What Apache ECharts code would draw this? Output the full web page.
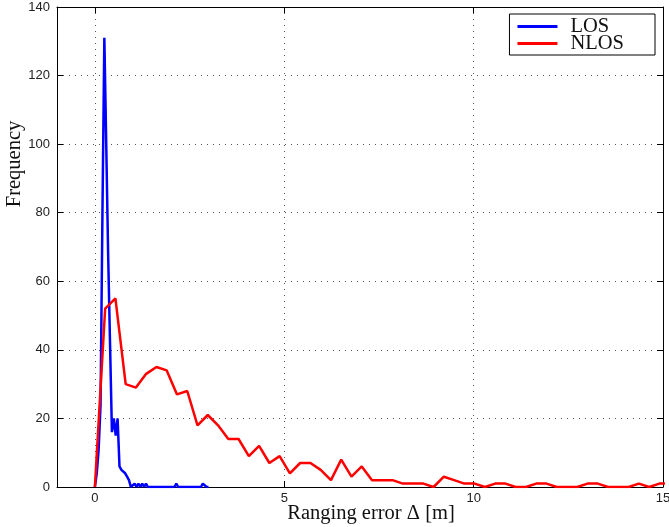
<!DOCTYPE html>
<html>
<head>
<meta charset="utf-8">
<style>
  html, body { margin: 0; padding: 0; background: #fff; }
  #chart { width: 669px; height: 527px; }
</style>
<script src="https://cdn.jsdelivr.net/npm/echarts@6/dist/echarts.min.js"></script>
</head>
<body>
<div id="chart"></div>
<script>
// Histogram of ranging errors (60 bins each), LOS vs NLOS
const losStart = 0;
const losBinWidth = 0.05;
const losFreq = [
  0, 4, 11, 24, 80, 131, 100, 68, 42, 16,
  20, 15, 20, 6, 5, 5, 4, 3, 2, 0,
  0, 1, 0, 1, 0, 1, 0, 1, 0, 0,
  0, 0, 0, 0, 0, 0, 0, 0, 0, 0,
  0, 0, 0, 1, 0, 0, 0, 0, 0, 0,
  0, 0, 0, 0, 0, 0, 0, 1, 1, 0,
  0
];

const nlosStart = 0;
const nlosBinWidth = 0.271;
const nlosFreq = [
  0, 52, 55, 30, 29, 33, 35, 34, 27, 28,
  18, 21, 18, 14, 14, 9, 12, 7, 9, 4,
  7, 7, 5, 2, 8, 3, 6, 2, 2, 2,
  1, 1, 1, 0, 3, 2, 1, 1, 0, 1,
  1, 0, 0, 1, 1, 0, 0, 0, 1, 1,
  0, 0, 0, 1, 0, 1, 1
];

const xTicks = [0, 5, 10, 15];
const yTicks = [0, 20, 40, 60, 80, 100, 120, 140];

const toPoints = (freq, start, width) => freq.map((v, i) => [start + i * width, v]);

const serif = '"Liberation Serif", "DejaVu Serif", serif';
const sans = '"Liberation Sans", Arial, sans-serif';

const dotted = { show: true, lineStyle: { color: '#555', width: 1, type: [1, 5] } };

const chart = echarts.init(document.getElementById('chart'), null, { renderer: 'canvas' });

chart.setOption({
  animation: false,
  backgroundColor: '#fff',
  grid: { left: 57, right: 6, top: 7, bottom: 40, containLabel: false, outerBoundsMode: 'none' },
  legend: {
    right: 14,
    top: 14,
    orient: 'vertical',
    icon: 'rect',
    itemWidth: 40,
    itemHeight: 3,
    itemGap: -4,
    padding: [2, 31, 1, 8],
    borderColor: '#000',
    borderWidth: 1,
    borderRadius: 0,
    backgroundColor: '#fff',
    textStyle: { fontFamily: serif, fontSize: 20.5, color: '#111', padding: [0, 0, 0, 8] },
    data: ['LOS', 'NLOS']
  },
  xAxis: [
    {
      type: 'value',
      min: -1,
      max: 15,
      name: 'Ranging error Δ [m]',
      nameLocation: 'middle',
      nameGap: 16,
      nameMoveOverlap: false,
      nameTextStyle: { fontFamily: serif, fontSize: 20.5, color: '#111', padding: [0, 0, 0, 22] },
      axisLine: { show: true, onZero: false, lineStyle: { color: '#000', width: 1 } },
      axisTick: { show: true, inside: true, length: 6, customValues: xTicks, lineStyle: { color: '#000' } },
      axisLabel: { customValues: xTicks, margin: 5, fontFamily: sans, fontSize: 13, color: '#222' },
      splitLine: dotted
    },
    {
      type: 'value',
      position: 'top',
      min: -1,
      max: 15,
      axisLine: { show: true, onZero: false, lineStyle: { color: '#000', width: 1 } },
      axisTick: { show: true, inside: true, length: 6, customValues: xTicks, lineStyle: { color: '#000' } },
      axisLabel: { show: false },
      splitLine: { show: false }
    }
  ],
  yAxis: [
    {
      type: 'value',
      min: 0,
      max: 140,
      interval: 20,
      name: 'Frequency',
      nameLocation: 'middle',
      nameGap: 32,
      nameMoveOverlap: false,
      nameRotate: 90,
      nameTextStyle: { fontFamily: serif, fontSize: 20.5, color: '#111', padding: [0, 0, 0, 166] },
      axisLine: { show: true, onZero: false, lineStyle: { color: '#000', width: 1 } },
      axisTick: { show: true, inside: true, length: 6, lineStyle: { color: '#000' } },
      axisLabel: { margin: 7, fontFamily: sans, fontSize: 13, color: '#222',
        formatter: v => (yTicks.includes(v) ? String(v) : '') },
      splitLine: dotted
    },
    {
      type: 'value',
      position: 'right',
      min: 0,
      max: 140,
      interval: 20,
      axisLine: { show: true, onZero: false, lineStyle: { color: '#000', width: 1 } },
      axisTick: { show: true, inside: true, length: 6, lineStyle: { color: '#000' } },
      axisLabel: { show: false },
      splitLine: { show: false }
    }
  ],
  series: [
    {
      name: 'LOS',
      type: 'line',
      data: toPoints(losFreq, losStart, losBinWidth),
      showSymbol: false,
      symbol: 'none',
      clip: true,
      lineStyle: { color: '#0000ff', width: 2.5 },
      itemStyle: { color: '#0000ff' }
    },
    {
      name: 'NLOS',
      type: 'line',
      data: toPoints(nlosFreq, nlosStart, nlosBinWidth),
      showSymbol: false,
      symbol: 'none',
      clip: true,
      lineStyle: { color: '#ff0000', width: 2.5 },
      itemStyle: { color: '#ff0000' }
    }
  ]
});
</script>
</body>
</html>
